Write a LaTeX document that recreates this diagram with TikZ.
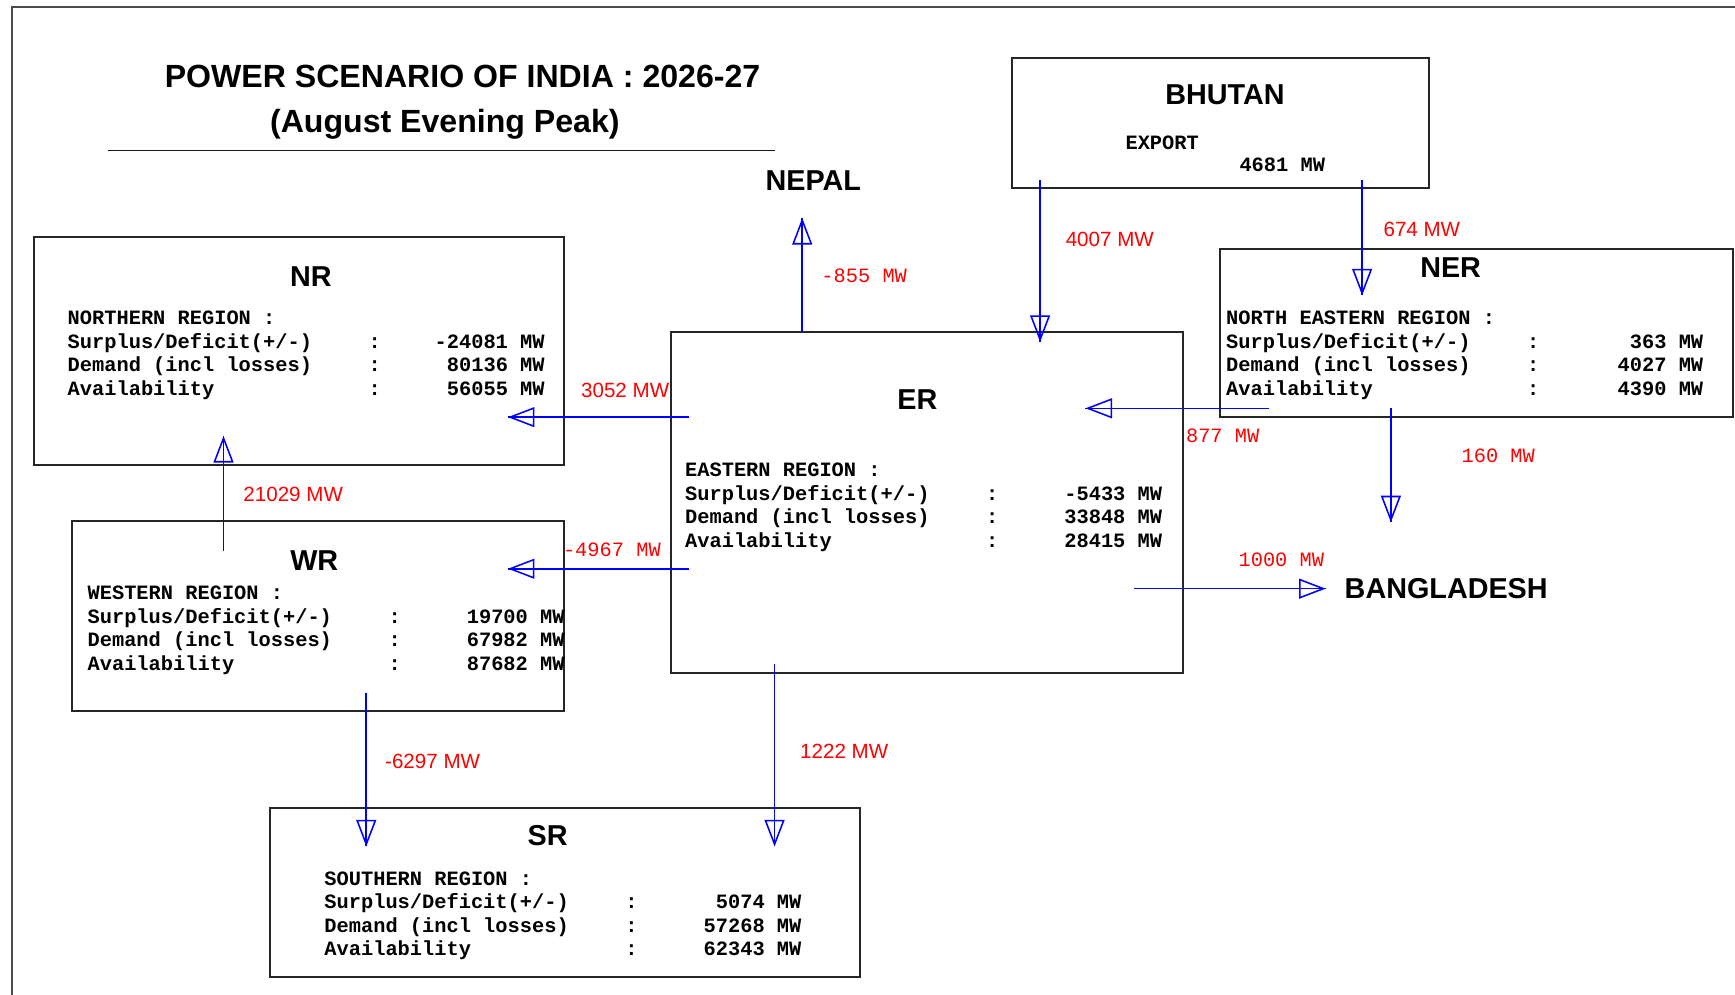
\documentclass[tikz,border=0pt]{standalone}
\usepackage{fontspec}
\setmainfont{Liberation Sans}
\setmonofont{Liberation Mono}
\usetikzlibrary{arrows.meta}

\tikzset{
  region/.style={draw=black!85, line width=1.8pt, inner sep=0pt},
  heading/.style={font=\fontsize{26}{30}\selectfont\bfseries},
  data/.style={font=\fontsize{18.4}{21.2}\selectfont\ttfamily\bfseries, align=left, anchor=west, inner sep=0pt},
  flowval/.style={red, font=\fontsize{18.6}{20}\selectfont},
  flowtt/.style={red, font=\fontsize{18.4}{20}\selectfont\ttfamily},
  flow/.style={blue, line width=1.4pt, -{Triangle[open, length=24pt, width=18pt]}, postaction={draw, -}},
}
\newcommand{\statline}[2]{\makebox[272pt][l]{#1}:\makebox[148pt][r]{#2}}

\begin{document}
\begin{tikzpicture}[x=1pt, y=-1pt]
    \useasboundingbox (0,0) rectangle (1568,899);
    \draw[black!70, line width=1.6pt] (11,899) -- (11,6) -- (1568,6);

    % Title
    \node[font=\fontsize{29}{34}\selectfont\bfseries] (title) at (418,69) {POWER SCENARIO OF INDIA : 2026-27};
    \node[font=\fontsize{29}{34}\selectfont\bfseries] (subtitle) at (402,112) {(August Evening Peak)};
    \draw[black!90, line width=1.6pt] (98,136) -- (700,136);

    % Region boxes
    \node[region, minimum width=479pt, minimum height=206pt] (nr) at (270.5,317) {};
    \node[region, minimum width=463pt, minimum height=308pt] (er) at (837.5,454) {};
    \node[region, minimum width=463pt, minimum height=152pt] (ner) at (1334.5,301) {};
    \node[region, minimum width=445pt, minimum height=172pt] (wr) at (287.5,557) {};
    \node[region, minimum width=533pt, minimum height=153pt] (sr) at (510.5,806.5) {};
    \node[region, minimum width=376pt, minimum height=118pt] (bhutan) at (1103,111) {};

    % Headings
    \node[heading] (nr-name) at (281,250) {NR};
    \node[heading] (er-name) at (829,361) {ER};
    \node[heading] (ner-name) at (1311,242) {NER};
    \node[heading] (wr-name) at (284,507) {WR};
    \node[heading] (sr-name) at (495,755) {SR};
    \node[heading] (bhutan-name) at (1107,86) {BHUTAN};
    \node[heading] (nepal) at (735,163) {NEPAL};
    \node[heading] (bangladesh) at (1307,532) {BANGLADESH};

    % Figures
    \node[data] (nr-data) at (61,321) {NORTHERN REGION :\\
        \statline{Surplus/Deficit(+/-)}{-24081 MW}\\
        \statline{Demand (incl losses)}{80136 MW}\\
        \statline{Availability}{56055 MW}};
    \node[data] (er-data) at (619,458.5) {EASTERN REGION :\\
        \statline{Surplus/Deficit(+/-)}{-5433 MW}\\
        \statline{Demand (incl losses)}{33848 MW}\\
        \statline{Availability}{28415 MW}};
    \node[data] (ner-data) at (1108,321) {NORTH EASTERN REGION :\\
        \statline{Surplus/Deficit(+/-)}{363 MW}\\
        \statline{Demand (incl losses)}{4027 MW}\\
        \statline{Availability}{4390 MW}};
    \node[data] (wr-data) at (79,569.5) {WESTERN REGION :\\
        \statline{Surplus/Deficit(+/-)}{19700 MW}\\
        \statline{Demand (incl losses)}{67982 MW}\\
        \statline{Availability}{87682 MW}};
    \node[data] (sr-data) at (293,827.5) {SOUTHERN REGION :\\
        \statline{Surplus/Deficit(+/-)}{5074 MW}\\
        \statline{Demand (incl losses)}{57268 MW}\\
        \statline{Availability}{62343 MW}};
    \node[data] (export) at (1017,129) {EXPORT};
    \node[data] (export-val) at (1120,149) {4681 MW};

    % Line ends
    \coordinate (er-nr-a) at (623,377);   \coordinate (er-nr-b) at (459,377);
    \coordinate (er-wr-a) at (623,514);   \coordinate (er-wr-b) at (459,514);
    \coordinate (wr-nr-a) at (202,498);   \coordinate (wr-nr-b) at (202,394);
    \coordinate (wr-sr-a) at (331,626);   \coordinate (wr-sr-b) at (331,765);
    \coordinate (er-sr-a) at (700,600);   \coordinate (er-sr-b) at (700,765);
    \coordinate (er-np-a) at (725,300);   \coordinate (er-np-b) at (725,197);
    \coordinate (bt-er-a) at (940,163);   \coordinate (bt-er-b) at (940,309);
    \coordinate (bt-ner-a) at (1231,163); \coordinate (bt-ner-b) at (1231,267);
    \coordinate (ner-er-a) at (1147,369); \coordinate (ner-er-b) at (981,369);
    \coordinate (ner-bd-a) at (1257,369); \coordinate (ner-bd-b) at (1257,472);
    \coordinate (er-bd-a) at (1025,532);  \coordinate (er-bd-b) at (1198,532);

    % Exchanges
    \draw[flow] (er-nr-a) -- (er-nr-b);
    \draw[flow] (er-wr-a) -- (er-wr-b);
    \draw[flow] (wr-nr-a) -- (wr-nr-b);
    \draw[flow] (wr-sr-a) -- (wr-sr-b);
    \draw[flow] (er-sr-a) -- (er-sr-b);
    \draw[flow] (er-np-a) -- (er-np-b);
    \draw[flow] (bt-er-a) -- (bt-er-b);
    \draw[flow] (bt-ner-a) -- (bt-ner-b);
    \draw[flow] (ner-er-a) -- (ner-er-b);
    \draw[flow] (ner-bd-a) -- (ner-bd-b);
    \draw[flow] (er-bd-a) -- (er-bd-b);

    \node[flowval] (er-nr-mw) at (565,353) {3052 MW};
    \node[flowtt] (er-wr-mw) at (553,497) {-4967 MW};
    \node[flowval] (wr-nr-mw) at (265,447) {21029 MW};
    \node[flowval] (wr-sr-mw) at (391,688) {-6297 MW};
    \node[flowval] (er-sr-mw) at (763,679) {1222 MW};
    \node[flowtt] (er-np-mw) at (781,249) {-855 MW};
    \node[flowval] (bt-er-mw) at (1003,216) {4007 MW};
    \node[flowval] (bt-ner-mw) at (1285,207) {674 MW};
    \node[flowtt] (ner-er-mw) at (1105,394) {877 MW};
    \node[flowtt] (ner-bd-mw) at (1354,412) {160 MW};
    \node[flowtt] (er-bd-mw) at (1158,506) {1000 MW};
\end{tikzpicture}
\end{document}
